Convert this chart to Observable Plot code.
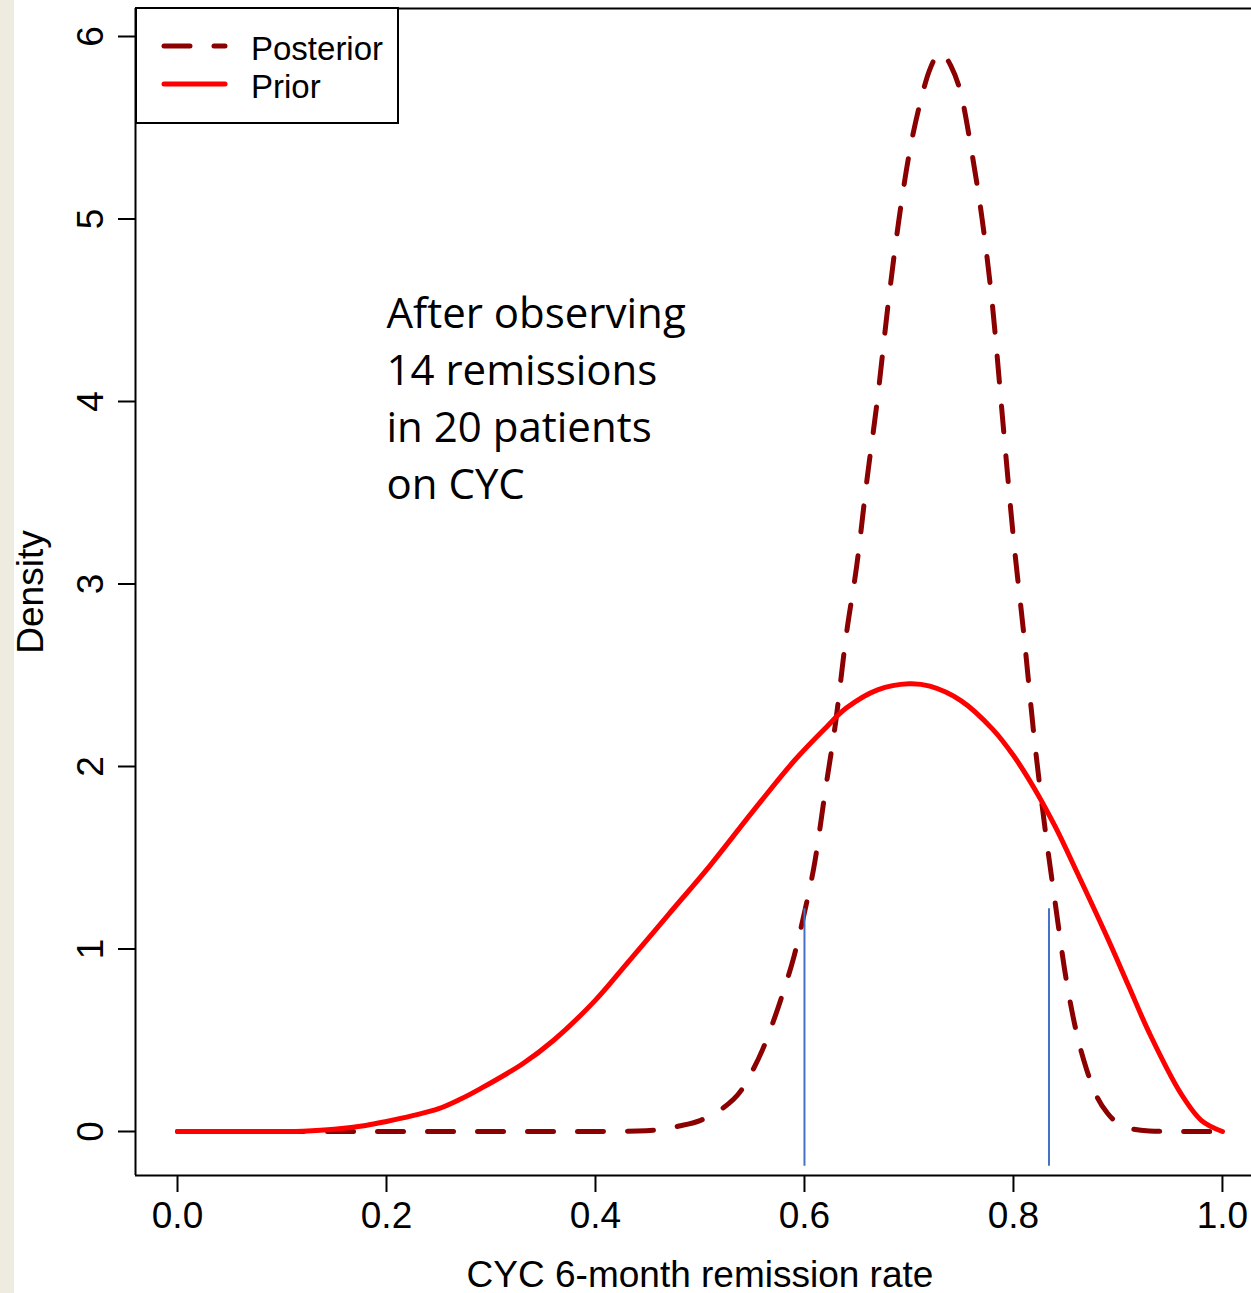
<!DOCTYPE html>
<html><head><meta charset="utf-8">
<script src="https://cdn.jsdelivr.net/npm/d3@7"></script>
<script src="https://cdn.jsdelivr.net/npm/@observablehq/plot@0.6"></script>
<style>
html,body{margin:0;padding:0;}
body{background:linear-gradient(to right,#EEECE1 0,#EEECE1 14px,#ffffff 14px);width:1251px;height:1293px;overflow:hidden;}
#chart{width:1251px;height:1293px;}
</style></head><body><div id="chart"></div>
<script>
// ---- data ----
const posteriorX = [0, 0.40, 0.44, 0.46, 0.48, 0.50, 0.52, 0.54, 0.55, 0.56, 0.57, 0.58, 0.59, 0.60, 0.61, 0.62, 0.63, 0.64, 0.65, 0.66, 0.67, 0.68, 0.69, 0.70, 0.71, 0.72, 0.73, 0.74, 0.75, 0.76, 0.77, 0.78, 0.79, 0.80, 0.81, 0.82, 0.83, 0.84, 0.85, 0.86, 0.87, 0.88, 0.89, 0.90, 0.91, 0.93, 0.95, 1.0];
const posteriorY = [0, 0, 0.003, 0.01, 0.03, 0.06, 0.12, 0.23, 0.33, 0.45, 0.60, 0.77, 0.96, 1.20, 1.48, 1.87, 2.25, 2.72, 3.10, 3.58, 4.02, 4.53, 4.98, 5.35, 5.62, 5.82, 5.91, 5.84, 5.68, 5.37, 5.00, 4.52, 3.88, 3.25, 2.72, 2.15, 1.67, 1.25, 0.85, 0.55, 0.34, 0.19, 0.10, 0.045, 0.02, 0.003, 0, 0];
const priorX = [0, 0.10, 0.12, 0.15, 0.18, 0.20, 0.225, 0.25, 0.27, 0.29, 0.33, 0.36, 0.40, 0.43, 0.47, 0.51, 0.55, 0.59, 0.62, 0.64, 0.67, 0.70, 0.72, 0.75, 0.78, 0.80, 0.82, 0.84, 0.86, 0.89, 0.91, 0.93, 0.96, 0.98, 1.0];
const priorY = [0, 0, 0.002, 0.012, 0.033, 0.055, 0.087, 0.125, 0.175, 0.235, 0.37, 0.50, 0.72, 0.92, 1.19, 1.46, 1.75, 2.03, 2.21, 2.32, 2.42, 2.453, 2.44, 2.36, 2.205, 2.06, 1.88, 1.67, 1.43, 1.06, 0.80, 0.54, 0.21, 0.06, 0];
const intervalX = [0.6, 0.834];
const intervalBottom = -0.19, intervalTop = 1.22;
const xTicks = [0, 0.2, 0.4, 0.6, 0.8, 1.0];
const yTicks = [0, 1, 2, 3, 4, 5, 6];
const seriesNames = ["Posterior", "Prior"];
const annotation = "After observing\n14 remissions\nin 20 patients\non CYC";
const xLabel = "CYC 6-month remission rate";
const yLabel = "Density";

const posterior = posteriorX.map((x, i) => ({x, y: posteriorY[i]}));
const prior = priorX.map((x, i) => ({x, y: priorY[i]}));

const xDomain = [-0.0402, 1.0278];
const yDomain = [-0.2411, 6.1534];
const POST = "#8B0000", PRIOR = "#FF0000", BLUE = "#4472C4";

const chart = Plot.plot({
  width: 1251, height: 1293,
  marginLeft: 135, marginRight: 0, marginTop: 8, marginBottom: 118,
  style: {background: "transparent", fontFamily: "Liberation Sans, Arial, sans-serif", fontSize: "37px", overflow: "visible"},
  x: {domain: xDomain, label: null},
  y: {domain: yDomain, label: null},
  marks: [
    Plot.line(posterior, {x: "x", y: "y", stroke: POST, strokeWidth: 5, strokeDasharray: "26,24", strokeLinecap: "round", curve: "monotone-x"}),
    Plot.line(prior, {x: "x", y: "y", stroke: PRIOR, strokeWidth: 5, strokeLinecap: "round", curve: "catmull-rom"}),
    Plot.ruleX(intervalX, {x: d => d, y1: intervalBottom, y2: intervalTop, stroke: BLUE, strokeWidth: 2}),
    Plot.ruleY([yDomain[0], yDomain[1]], {stroke: "#000", strokeWidth: 2}),
    Plot.ruleX([xDomain[0]], {stroke: "#000", strokeWidth: 2}),
    Plot.axisX({ticks: xTicks, tickSize: 17, tickPadding: 9, tickFormat: d3.format(".1f"), fontSize: 37, strokeWidth: 2, label: null}),
    Plot.axisY({ticks: yTicks, tickSize: 17, tickFormat: () => "", strokeWidth: 2, label: null}),
    Plot.text(yTicks, {y: d => d, text: d => String(d), frameAnchor: "left", dx: -33, rotate: -90, textAnchor: "middle", lineAnchor: "bottom", fontSize: 37}),
    Plot.text([yLabel], {text: d => d, frameAnchor: "left", dx: -93, rotate: -90, textAnchor: "middle", lineAnchor: "bottom", fontSize: 37}),
    Plot.text([xLabel], {x: 0.5, text: d => d, frameAnchor: "bottom", dy: 111, lineAnchor: "bottom", fontSize: 37}),
    Plot.text([annotation], {x: 0.2, y: 4.625, text: d => d, textAnchor: "start", lineAnchor: "top", fontFamily: "Open Sans", fontSize: 42, lineHeight: 1.357, fill: "#000"})
  ]
});

// legend (R-style boxed legend in the top-left corner of the plot box)
const svg = d3.select(chart);
const lg = svg.append("g").attr("font-family", "Liberation Sans, Arial, sans-serif").attr("font-size", 33).attr("text-anchor", "start");
lg.append("rect").attr("x", 136).attr("y", 8).attr("width", 262).attr("height", 115)
  .attr("fill", "#fff").attr("stroke", "#000").attr("stroke-width", 2);
const legendItems = [
  {name: seriesNames[0], color: POST, dash: "26,24", cy: 46, base: 60},
  {name: seriesNames[1], color: PRIOR, dash: null, cy: 84, base: 98}
];
legendItems.forEach(it => {
  const l = lg.append("line").attr("x1", 164).attr("x2", 225).attr("y1", it.cy).attr("y2", it.cy)
    .attr("stroke", it.color).attr("stroke-width", 5).attr("stroke-linecap", "round");
  if (it.dash) l.attr("stroke-dasharray", it.dash);
  lg.append("text").attr("x", 251).attr("y", it.base).attr("fill", "#000").attr("text-anchor", "start").text(it.name);
});

document.getElementById("chart").appendChild(chart);
</script></body></html>
